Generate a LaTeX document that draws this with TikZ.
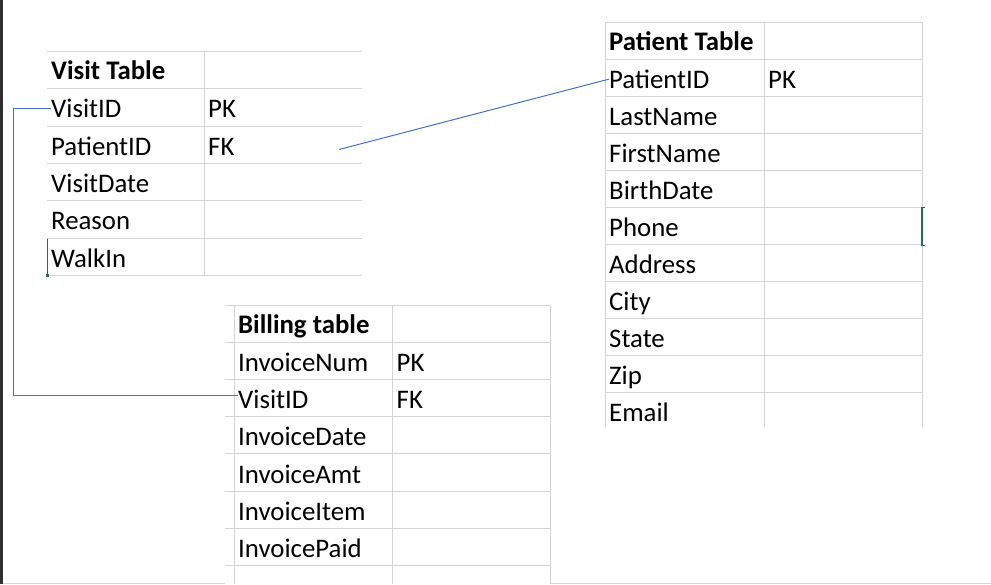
\documentclass[tikz,border=0pt]{standalone}
\usepackage{fontspec}
\setmainfont{Carlito}
\usepackage{xcolor}
\definecolor{gridgray}{RGB}{212,212,212}
\definecolor{linkblue}{RGB}{68,114,196}
\definecolor{cursorgreen}{RGB}{30,113,69}
\definecolor{darkbar}{RGB}{46,46,46}

\begin{document}
\begin{tikzpicture}[x=1pt,y=-1pt,
  cell/.style={anchor=base west,inner sep=0pt,font=\fontsize{26.8}{30}\selectfont},
  head/.style={cell,font=\fontsize{26.8}{30}\selectfont\bfseries},
  grid line/.style={draw=gridgray,line width=1pt},
  link/.style={draw=linkblue,line width=1pt},
  cursor/.style={draw=cursorgreen,line width=1.2pt}]
\useasboundingbox (0,0) rectangle (991,584);
\fill[darkbar] (0,0) rectangle (2.7,584);
\draw[grid line] (3,583)--(225,583);
\draw[grid line] (550,583)--(991,583);

% visit table
\foreach \k in {0,...,6}
{	\draw[grid line] (47,51.5+37.3*\k)--(362,51.5+37.3*\k);
}
\draw[grid line] (204,51.5)--(204,275.3);
\node[head] (vhead) at (51,79.5) {Visit Table};
\foreach \f [count=\i] in {VisitID,PatientID,VisitDate,Reason,WalkIn}
{	\node[cell] (v-\i) at (51,80.5+37.3*\i) {\f};
}
\node[cell] (vk-1) at (208,117.8) {PK};
\node[cell] (vk-2) at (208,155.1) {FK};
\draw[cursor] (47.5,238.5)--(47.5,275);
\fill[cursorgreen] (46.3,273.5) rectangle (49,276.5);

% patient table
\foreach \k in {0,...,10}
{	\draw[grid line] (605,22.3+37*\k)--(922,22.3+37*\k);
}
\foreach \c in {605,764,922}
{	\draw[grid line] (\c,22.3)--(\c,427);
}
\node[head] (phead) at (609,50.5) {Patient Table};
\foreach \f [count=\i] in {PatientID,LastName,FirstName,BirthDate,Phone,Address,City,State,Zip,Email}
{	\node[cell] (p-\i) at (609,51.3+37*\i) {\f};
}
\node[cell] (pk-1) at (768,88.3) {PK};
\draw[cursor] (924.5,207.5)--(922,207.5)--(922,245.5)--(924.5,245.5);

% billing table
\foreach \k in {0,...,7}
{	\draw[grid line] (225,305+37.2*\k)--(550,305+37.2*\k);
}
\foreach \c in {234.4,392.5,550}
{	\draw[grid line] (\c,305)--(\c,584);
}
\node[head] (bhead) at (238,333.3) {Billing table};
\foreach \f [count=\i] in {InvoiceNum,VisitID,InvoiceDate,InvoiceAmt,InvoiceItem,InvoicePaid}
{	\node[cell] (b-\i) at (238,334.2+37.2*\i) {\f};
}
\node[cell] (bk-1) at (396.5,371.4) {PK};
\node[cell] (bk-2) at (396.5,408.6) {FK};

% links
\coordinate (fk-end) at (339,149.5);
\draw[link] (fk-end)--(p-1.west);
\draw[link] (v-1.west)--++(-38,0) |- ([yshift=3.5pt]b-2.west);
\end{tikzpicture}
\end{document}
